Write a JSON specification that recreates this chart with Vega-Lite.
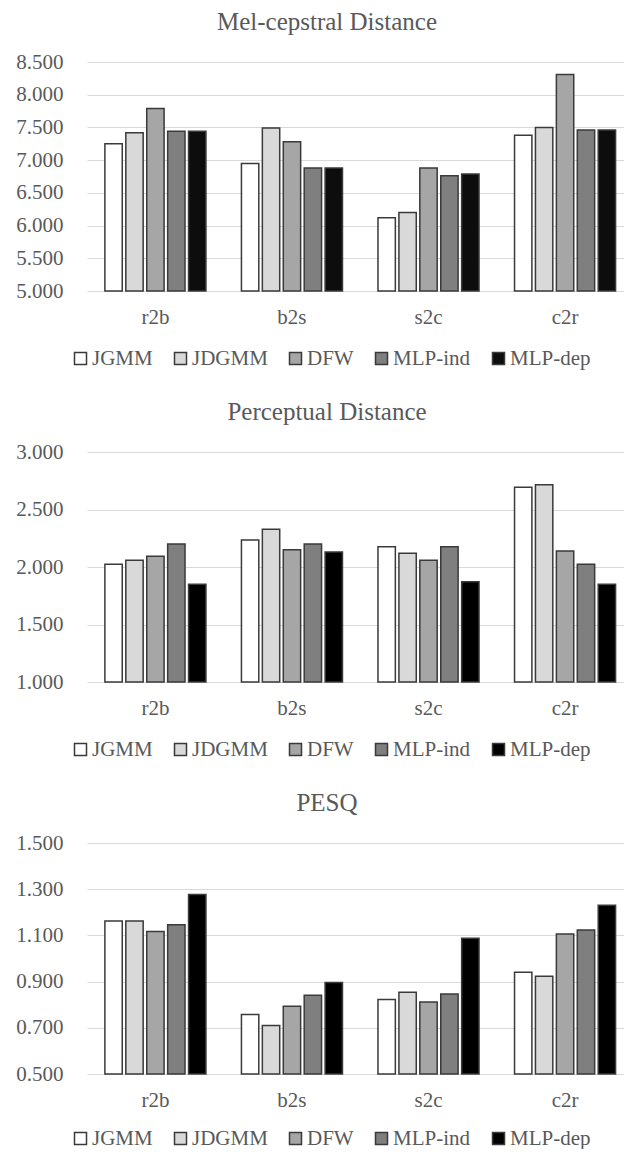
{
  "$schema": "https://vega.github.io/schema/vega-lite/v6.json",
  "padding": {"left": 15, "right": 0, "top": 10, "bottom": 0},
  "spacing": 31,
  "background": "#ffffff",
  "config": {
    "font": "Liberation Serif",
    "view": {"stroke": null},
    "title": {"font": "Liberation Serif", "fontSize": 25, "fontWeight": "normal", "color": "#595959", "dx": -29, "offset": 16},
    "axis": {"labelFont": "Liberation Serif", "labelFontSize": 21, "labelColor": "#595959", "domain": false, "ticks": false, "tickSize": 0, "title": null},
    "axisY": {"gridColor": "#d9d9d9", "gridWidth": 1, "labelPadding": 24},
    "axisX": {"grid": false, "labelPadding": 15, "labelAngle": 0},
    "legend": {"orient": "none", "direction": "horizontal", "columns": 5, "gridAlign": "none", "title": null, "symbolType": "square", "symbolSize": 144, "symbolStrokeColor": "#3a3a3a", "symbolStrokeWidth": 1.5, "labelFont": "Liberation Serif", "labelFontSize": 21, "labelColor": "#595959", "columnPadding": 17, "labelOffset": 1, "labelLimit": 300}
  },
  "resolve": {"scale": {"color": "independent", "y": "independent", "x": "independent"}, "legend": {"color": "independent"}},
  "datasets": {
    "mcd": [
      {"pair": "r2b", "method": "JGMM", "value": 7.25},
      {"pair": "r2b", "method": "JDGMM", "value": 7.42},
      {"pair": "r2b", "method": "DFW", "value": 7.79},
      {"pair": "r2b", "method": "MLP-ind", "value": 7.44},
      {"pair": "r2b", "method": "MLP-dep", "value": 7.44},
      {"pair": "b2s", "method": "JGMM", "value": 6.95},
      {"pair": "b2s", "method": "JDGMM", "value": 7.49},
      {"pair": "b2s", "method": "DFW", "value": 7.28},
      {"pair": "b2s", "method": "MLP-ind", "value": 6.88},
      {"pair": "b2s", "method": "MLP-dep", "value": 6.88},
      {"pair": "s2c", "method": "JGMM", "value": 6.12},
      {"pair": "s2c", "method": "JDGMM", "value": 6.2},
      {"pair": "s2c", "method": "DFW", "value": 6.88},
      {"pair": "s2c", "method": "MLP-ind", "value": 6.76},
      {"pair": "s2c", "method": "MLP-dep", "value": 6.79},
      {"pair": "c2r", "method": "JGMM", "value": 7.38},
      {"pair": "c2r", "method": "JDGMM", "value": 7.5},
      {"pair": "c2r", "method": "DFW", "value": 8.31},
      {"pair": "c2r", "method": "MLP-ind", "value": 7.46},
      {"pair": "c2r", "method": "MLP-dep", "value": 7.46}
    ],
    "pd": [
      {"pair": "r2b", "method": "JGMM", "value": 2.023},
      {"pair": "r2b", "method": "JDGMM", "value": 2.058},
      {"pair": "r2b", "method": "DFW", "value": 2.093},
      {"pair": "r2b", "method": "MLP-ind", "value": 2.2},
      {"pair": "r2b", "method": "MLP-dep", "value": 1.849},
      {"pair": "b2s", "method": "JGMM", "value": 2.235},
      {"pair": "b2s", "method": "JDGMM", "value": 2.328},
      {"pair": "b2s", "method": "DFW", "value": 2.151},
      {"pair": "b2s", "method": "MLP-ind", "value": 2.2},
      {"pair": "b2s", "method": "MLP-dep", "value": 2.13},
      {"pair": "s2c", "method": "JGMM", "value": 2.177},
      {"pair": "s2c", "method": "JDGMM", "value": 2.119},
      {"pair": "s2c", "method": "DFW", "value": 2.058},
      {"pair": "s2c", "method": "MLP-ind", "value": 2.177},
      {"pair": "s2c", "method": "MLP-dep", "value": 1.872},
      {"pair": "c2r", "method": "JGMM", "value": 2.693},
      {"pair": "c2r", "method": "JDGMM", "value": 2.716},
      {"pair": "c2r", "method": "DFW", "value": 2.139},
      {"pair": "c2r", "method": "MLP-ind", "value": 2.023},
      {"pair": "c2r", "method": "MLP-dep", "value": 1.849}
    ],
    "pesq": [
      {"pair": "r2b", "method": "JGMM", "value": 1.162},
      {"pair": "r2b", "method": "JDGMM", "value": 1.162},
      {"pair": "r2b", "method": "DFW", "value": 1.117},
      {"pair": "r2b", "method": "MLP-ind", "value": 1.146},
      {"pair": "r2b", "method": "MLP-dep", "value": 1.277},
      {"pair": "b2s", "method": "JGMM", "value": 0.758},
      {"pair": "b2s", "method": "JDGMM", "value": 0.71},
      {"pair": "b2s", "method": "DFW", "value": 0.793},
      {"pair": "b2s", "method": "MLP-ind", "value": 0.841},
      {"pair": "b2s", "method": "MLP-dep", "value": 0.896},
      {"pair": "s2c", "method": "JGMM", "value": 0.823},
      {"pair": "s2c", "method": "JDGMM", "value": 0.854},
      {"pair": "s2c", "method": "DFW", "value": 0.812},
      {"pair": "s2c", "method": "MLP-ind", "value": 0.846},
      {"pair": "s2c", "method": "MLP-dep", "value": 1.088},
      {"pair": "c2r", "method": "JGMM", "value": 0.941},
      {"pair": "c2r", "method": "JDGMM", "value": 0.923},
      {"pair": "c2r", "method": "DFW", "value": 1.106},
      {"pair": "c2r", "method": "MLP-ind", "value": 1.123},
      {"pair": "c2r", "method": "MLP-dep", "value": 1.23}
    ]
  },
  "vconcat": [
    {
      "title": "Mel-cepstral Distance",
      "width": 538,
      "height": 229,
      "data": {"name": "mcd"},
      "mark": {"type": "bar", "stroke": "#3a3a3a", "strokeWidth": 1.5},
      "encoding": {
        "x": {"field": "pair", "type": "nominal", "sort": ["r2b", "b2s", "s2c", "c2r"], "scale": {"paddingInner": 0.26, "paddingOuter": 0.1, "align": 0.655}},
        "xOffset": {"field": "method", "type": "nominal", "sort": ["JGMM", "JDGMM", "DFW", "MLP-ind", "MLP-dep"], "scale": {"paddingInner": 0.17, "paddingOuter": 0}},
        "y": {"field": "value", "type": "quantitative", "scale": {"domain": [5, 8.5], "zero": false, "nice": false}, "axis": {"values": [5, 5.5, 6, 6.5, 7, 7.5, 8, 8.5], "format": ".3f"}},
        "y2": {"datum": 5},
        "color": {"field": "method", "type": "nominal", "sort": ["JGMM", "JDGMM", "DFW", "MLP-ind", "MLP-dep"], "scale": {"domain": ["JGMM", "JDGMM", "DFW", "MLP-ind", "MLP-dep"], "range": ["#ffffff", "#d9d9d9", "#a6a6a6", "#7f7f7f", "#0d0d0d"]}, "legend": {"legendX": -17, "legendY": 286}}
      }
    },
    {
      "title": "Perceptual Distance",
      "width": 538,
      "height": 230,
      "data": {"name": "pd"},
      "mark": {"type": "bar", "stroke": "#3a3a3a", "strokeWidth": 1.5},
      "encoding": {
        "x": {"field": "pair", "type": "nominal", "sort": ["r2b", "b2s", "s2c", "c2r"], "scale": {"paddingInner": 0.26, "paddingOuter": 0.1, "align": 0.655}},
        "xOffset": {"field": "method", "type": "nominal", "sort": ["JGMM", "JDGMM", "DFW", "MLP-ind", "MLP-dep"], "scale": {"paddingInner": 0.17, "paddingOuter": 0}},
        "y": {"field": "value", "type": "quantitative", "scale": {"domain": [1, 3], "zero": false, "nice": false}, "axis": {"values": [1, 1.5, 2, 2.5, 3], "format": ".3f"}},
        "y2": {"datum": 1},
        "color": {"field": "method", "type": "nominal", "sort": ["JGMM", "JDGMM", "DFW", "MLP-ind", "MLP-dep"], "scale": {"domain": ["JGMM", "JDGMM", "DFW", "MLP-ind", "MLP-dep"], "range": ["#ffffff", "#d9d9d9", "#a6a6a6", "#7f7f7f", "#000000"]}, "legend": {"legendX": -17, "legendY": 287}}
      }
    },
    {
      "title": "PESQ",
      "width": 538,
      "height": 231,
      "data": {"name": "pesq"},
      "mark": {"type": "bar", "stroke": "#3a3a3a", "strokeWidth": 1.5},
      "encoding": {
        "x": {"field": "pair", "type": "nominal", "sort": ["r2b", "b2s", "s2c", "c2r"], "scale": {"paddingInner": 0.26, "paddingOuter": 0.1, "align": 0.655}},
        "xOffset": {"field": "method", "type": "nominal", "sort": ["JGMM", "JDGMM", "DFW", "MLP-ind", "MLP-dep"], "scale": {"paddingInner": 0.17, "paddingOuter": 0}},
        "y": {"field": "value", "type": "quantitative", "scale": {"domain": [0.5, 1.5], "zero": false, "nice": false}, "axis": {"values": [0.5, 0.7, 0.9, 1.1, 1.3, 1.5], "format": ".3f"}},
        "y2": {"datum": 0.5},
        "color": {"field": "method", "type": "nominal", "sort": ["JGMM", "JDGMM", "DFW", "MLP-ind", "MLP-dep"], "scale": {"domain": ["JGMM", "JDGMM", "DFW", "MLP-ind", "MLP-dep"], "range": ["#ffffff", "#d9d9d9", "#a6a6a6", "#7f7f7f", "#000000"]}, "legend": {"legendX": -17, "legendY": 285}}
      }
    }
  ]
}
